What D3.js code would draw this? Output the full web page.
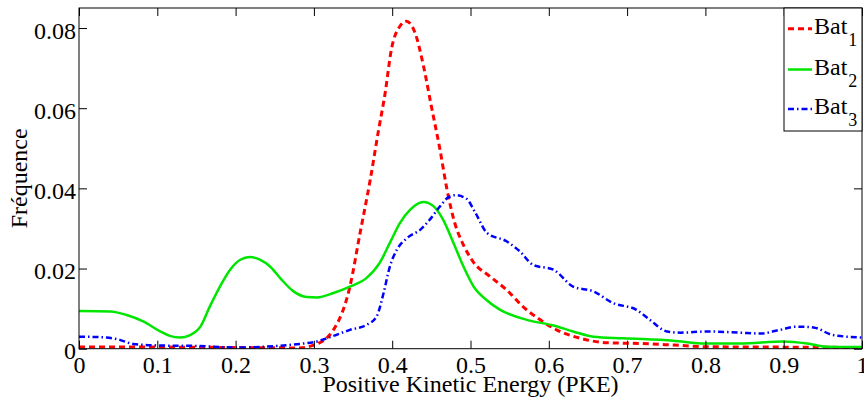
<!DOCTYPE html>
<html>
<head>
<meta charset="utf-8">
<script src="https://cdn.jsdelivr.net/npm/d3@7"></script>
<style>
  html, body { margin: 0; padding: 0; background: #fff; }
  svg { display: block; }
  text { font-family: "Liberation Serif", "Times New Roman", serif; fill: #000; }
</style>
</head>
<body>
<svg id="chart" width="864" height="401"></svg>
<script>
// ---- data ----
const seriesNames = ["Bat1", "Bat2", "Bat3"];
const xTicks = [0, 0.1, 0.2, 0.3, 0.4, 0.5, 0.6, 0.7, 0.8, 0.9, 1];
const xTickLabels = ["0", "0.1", "0.2", "0.3", "0.4", "0.5", "0.6", "0.7", "0.8", "0.9", "1"];
const yTicks = [0, 0.02, 0.04, 0.06, 0.08];
const yTickLabels = ["0", "0.02", "0.04", "0.06", "0.08"];

const pke1 = [0, 0.1, 0.2, 0.28, 0.3, 0.325, 0.346, 0.359, 0.372, 0.382, 0.391, 0.399, 0.41, 0.418, 0.429, 0.44, 0.45, 0.461, 0.47, 0.48, 0.49, 0.503, 0.525, 0.546, 0.567, 0.589, 0.61, 0.64, 0.674, 0.717, 0.76, 0.8, 0.887, 1];
const bat1 = [0.0004, 0.0004, 0.0003, 0.0002, 0.0009, 0.0047, 0.0155, 0.0289, 0.0422, 0.0539, 0.0638, 0.0747, 0.0805, 0.0817, 0.0789, 0.0705, 0.0605, 0.0497, 0.0397, 0.0313, 0.0263, 0.0218, 0.018, 0.0147, 0.0105, 0.0072, 0.0047, 0.0026, 0.0015, 0.0013, 0.0009, 0.0005, 0.0004, 0.0003];

const pke2 = [0, 0.04, 0.061, 0.082, 0.103, 0.116, 0.129, 0.142, 0.155, 0.167, 0.18, 0.193, 0.206, 0.218, 0.231, 0.244, 0.257, 0.274, 0.291, 0.304, 0.325, 0.346, 0.367, 0.384, 0.397, 0.41, 0.423, 0.44, 0.453, 0.465, 0.478, 0.491, 0.504, 0.52, 0.538, 0.572, 0.606, 0.631, 0.657, 0.695, 0.759, 0.8, 0.844, 0.9, 0.93, 0.955, 1];
const bat2 = [0.0094, 0.0093, 0.0084, 0.0068, 0.0044, 0.0032, 0.0028, 0.0034, 0.0055, 0.0105, 0.0155, 0.0197, 0.0222, 0.0229, 0.0222, 0.0205, 0.0176, 0.0143, 0.0129, 0.0128, 0.0139, 0.0155, 0.0176, 0.0214, 0.0264, 0.0314, 0.0347, 0.0366, 0.0355, 0.0322, 0.0265, 0.0205, 0.0155, 0.0122, 0.0097, 0.0072, 0.0058, 0.0043, 0.003, 0.0026, 0.002, 0.0013, 0.0013, 0.0018, 0.0013, 0.0005, 0.0004];

const pke3 = [0, 0.035, 0.052, 0.069, 0.103, 0.146, 0.201, 0.253, 0.282, 0.304, 0.325, 0.346, 0.367, 0.38, 0.389, 0.397, 0.406, 0.419, 0.436, 0.448, 0.461, 0.472, 0.481, 0.495, 0.506, 0.521, 0.546, 0.563, 0.58, 0.606, 0.631, 0.657, 0.682, 0.712, 0.729, 0.751, 0.768, 0.802, 0.844, 0.87, 0.895, 0.917, 0.938, 0.963, 1];
const bat3 = [0.003, 0.0028, 0.0022, 0.0012, 0.0008, 0.0007, 0.0003, 0.0007, 0.0012, 0.0018, 0.0032, 0.0047, 0.0059, 0.008, 0.0139, 0.0205, 0.0247, 0.0276, 0.0297, 0.0322, 0.0355, 0.0378, 0.0383, 0.0374, 0.034, 0.0289, 0.0268, 0.0243, 0.0209, 0.0197, 0.0155, 0.0143, 0.0114, 0.0097, 0.0072, 0.0043, 0.004, 0.0043, 0.004, 0.0038, 0.0047, 0.0055, 0.0053, 0.0034, 0.0028];

// ---- layout ----
const L = 79, R = 862, T = 8, B = 348.7;
const svg = d3.select("#chart");
const x = d3.scaleLinear().domain([0, 1]).range([L, R]);
const y = d3.scaleLinear().domain([0, 0.085]).range([B, T]);

const styles = [
  { color: "#ff0000", width: 3, dash: "6,4" },
  { color: "#00e600", width: 2.5, dash: null },
  { color: "#0000ff", width: 2.5, dash: "6,3,1.5,3" }
];
const series = [
  { name: seriesNames[0], xs: pke1, ys: bat1 },
  { name: seriesNames[1], xs: pke2, ys: bat2 },
  { name: seriesNames[2], xs: pke3, ys: bat3 }
];

svg.append("defs").append("clipPath").attr("id", "clip")
  .append("rect").attr("x", L).attr("y", T).attr("width", R - L).attr("height", B - T);

// curves
const line = d3.line().x(d => x(d[0])).y(d => y(d[1])).curve(d3.curveMonotoneX);
const g = svg.append("g").attr("clip-path", "url(#clip)");
series.forEach((s, i) => {
  const pts = s.xs.map((v, k) => [v, s.ys[k]]);
  g.append("path").datum(pts)
    .attr("d", line)
    .attr("fill", "none")
    .attr("stroke", styles[i].color)
    .attr("stroke-width", styles[i].width)
    .attr("stroke-dasharray", styles[i].dash)
    .attr("stroke-linejoin", "round");
});

// axes (MATLAB-style box with inward ticks)
const tickLen = 8;
const axB = svg.append("g").attr("transform", `translate(0,${B})`)
  .call(d3.axisBottom(x).tickValues(xTicks).tickSize(-tickLen).tickSizeOuter(0)
    .tickFormat((d, i) => xTickLabels[i]));
axB.select(".domain").remove();
axB.selectAll(".tick line").attr("stroke", "#000");
axB.selectAll(".tick text").attr("font-size", 24).attr("font-family", "Liberation Serif, serif")
  .attr("y", 24).attr("dy", 0);

const axT = svg.append("g").attr("transform", `translate(0,${T})`)
  .call(d3.axisTop(x).tickValues(xTicks).tickSize(-tickLen).tickSizeOuter(0).tickFormat(""));
axT.select(".domain").remove();

const axL = svg.append("g").attr("transform", `translate(${L},0)`)
  .call(d3.axisLeft(y).tickValues(yTicks).tickSize(-tickLen).tickSizeOuter(0)
    .tickFormat((d, i) => yTickLabels[i]));
axL.select(".domain").remove();
axL.selectAll(".tick text").attr("font-size", 24).attr("font-family", "Liberation Serif, serif")
  .attr("x", -3).attr("dy", "0.42em");

const axR = svg.append("g").attr("transform", `translate(${R},0)`)
  .call(d3.axisRight(y).tickValues(yTicks).tickSize(-tickLen).tickSizeOuter(0).tickFormat(""));
axR.select(".domain").remove();

svg.append("rect").attr("x", L).attr("y", T).attr("width", R - L).attr("height", B - T)
  .attr("fill", "none").attr("stroke", "#000").attr("stroke-width", 1);

// axis labels
svg.append("text").attr("x", (L + R) / 2).attr("y", 392).attr("text-anchor", "middle")
  .attr("font-size", 24).text("Positive Kinetic Energy (PKE)");
svg.append("text").attr("transform", `translate(27,${(T + B) / 2}) rotate(-90)`)
  .attr("text-anchor", "middle").attr("font-size", 24).text("Fréquence");

// legend
const lg = svg.append("g");
lg.append("rect").attr("x", 784).attr("y", T).attr("width", R - 784).attr("height", 123)
  .attr("fill", "#fff").attr("stroke", "#000").attr("stroke-width", 1);
const legY = [28.7, 69.5, 109];
series.forEach((s, i) => {
  lg.append("line").attr("x1", 788).attr("x2", 812).attr("y1", legY[i]).attr("y2", legY[i])
    .attr("stroke", styles[i].color).attr("stroke-width", styles[i].width)
    .attr("stroke-dasharray", styles[i].dash);
  const t = lg.append("text").attr("x", 814).attr("y", legY[i] + 5).attr("font-size", 24);
  t.append("tspan").text(s.name.slice(0, 3));
  t.append("tspan").attr("font-size", 18).attr("dy", 12).attr("dx", 1).text(s.name.slice(3));
});
</script>
</body>
</html>
